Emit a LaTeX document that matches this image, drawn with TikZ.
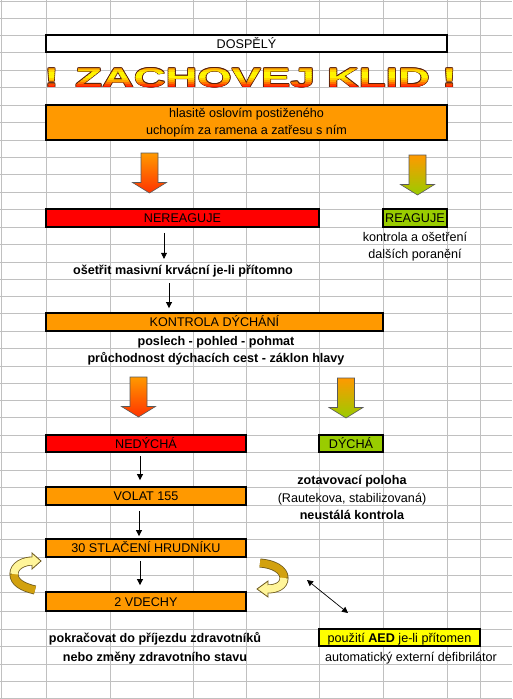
\documentclass[tikz,border=0pt]{standalone}
\usepackage{fontspec}
\setmainfont{Liberation Sans}
\usepackage{tikz}
\usetikzlibrary{arrows.meta}
\usepackage{xcolor}
\usepackage{graphicx}
\definecolor{orng}{HTML}{FF9900}
\definecolor{redbox}{HTML}{FF0000}
\definecolor{grnbox}{HTML}{99CC00}
\definecolor{yelbox}{HTML}{FFFF00}
\definecolor{arred}{HTML}{FF3300}
\definecolor{gridc}{HTML}{C0C0C0}
\definecolor{goldlt}{HTML}{FFF59A}
\definecolor{golddk}{HTML}{D2A10E}
\definecolor{curledge}{HTML}{6E5A1E}
\definecolor{klidedge}{HTML}{5A1E0A}
\newcommand{\boxfont}{\fontsize{12.6}{17}\selectfont}
\newcommand{\klid}{\scalebox{1.63}[1]{! ZACHOVEJ KLID !}}
\newcommand{\bigdown}[3]{%
  \shadedraw[top color=orng, bottom color=#3, draw=black!65, line width=0.6pt]
    (#1-8.5,#2) -- (#1+8.5,#2) -- (#1+8.5,#2+29.5) -- (#1+17,#2+29.5)
    -- (#1,#2+40) -- (#1-17,#2+29.5) -- (#1-8.5,#2+29.5) -- cycle;}
\tikzset{
  box/.style   ={draw, line width=1.8pt, inner sep=0pt, font=\boxfont},
  tline/.style ={text height=11.5pt, text depth=2.5pt},
  lbl/.style   ={inner sep=0pt, font=\boxfont, align=center},
  blbl/.style  ={inner sep=0pt, font=\boxfont\bfseries, align=center},
  flow/.style  ={-{Triangle[length=6pt, width=6pt]}, line width=0.7pt},
  gridln/.style={draw=gridc, line width=1pt},
  titl/.style  ={inner sep=0pt, anchor=base,
                 font=\fontsize{27}{27}\selectfont\bfseries},
  curl/.style  ={line width=9pt, draw=curledge},
}

\begin{document}
\begin{tikzpicture}[x=1pt, y=-1pt]
  \useasboundingbox[fill=white] (0,0) rectangle (512,699);
  % sheet grid
  \foreach \x in {1,46,110,193,246,319,383,447,480}
    \draw[gridln] (\x,0) -- (\x,699);
  \foreach \y in {1,18,35,52,70,87,105,122,140,157,174,192,209,227,244,262,
                  279,296,313,331,348,366,383,400,417,435,452,470,487,505,
                  522,539,557,575,592,611,629,646,664,681,698}
    \draw[gridln] (0,\y) -- (512,\y);

  \node[box, tline, fill=white, minimum width=401pt, minimum height=17pt]
    (dospely) at (246.5,43.5) {DOSPĚLÝ};

  % title, outline first then colour bands
  \foreach \dx/\dy [count=\i] in {-0.9/0,0.9/0,0/-0.9,0/0.9,
                                  -0.6/-0.6,0.6/-0.6,-0.6/0.6,0.6/0.6}
    \node[titl, text=klidedge] (klidedge\i) at (250.5+\dx,87+\dy) {\klid};
  \foreach \y/\p [count=\i] in {64/45,66/41,68/31,70/16,72/4,74/0,76/4,
                                78/18,80/35,82/55,84/75,86/90}
    {\begin{scope}
       \clip (0,\y) rectangle (512,\y+2.05);
       \node[titl, text=red!\p!yellow] (klid\i) at (250.5,87) {\klid};
     \end{scope}}

  \node[box, fill=orng, minimum width=401pt, minimum height=35pt,
        align=center] (hlasite) at (246.5,122.5)
    {hlasitě oslovím postiženého\\uchopím za ramena a zatřesu s ním};

  \bigdown{149.5}{153}{arred}
  \bigdown{417.5}{155}{grnbox}

  \node[box, tline, fill=redbox, minimum width=273pt, minimum height=18pt]
    (nereag) at (182.5,218) {NEREAGUJE};
  \node[box, tline, fill=grnbox, minimum width=64pt, minimum height=18pt]
    (reag) at (415,218) {REAGUJE};
  \node[lbl] (dalsi) at (415,246.5) {kontrola a ošetření\\dalších poranění};

  \node[blbl, tline] (osetrit) at (183,270.2)
    {ošetřit masivní krvácní je-li přítomno};
  \draw[flow, shorten <=5pt, shorten >=4.2pt]
    ([xshift=-18.5pt]nereag.south) -- ([xshift=-19pt]osetrit.north);

  \node[box, tline, fill=orng, minimum width=337pt, minimum height=18pt]
    (kontrola) at (214.5,322) {KONTROLA DÝCHÁNÍ};
  \draw[flow, shorten <=5.8pt, shorten >=4pt]
    ([xshift=-14pt]osetrit.south) -- ([xshift=-45.5pt]kontrola.north);
  \node[blbl] (poslech) at (216,350.5)
    {poslech - pohled - pohmat\\průchodnost dýchacích cest - záklon hlavy};

  \bigdown{138.5}{377}{arred}
  \bigdown{346}{378}{grnbox}

  \node[box, tline, fill=redbox, minimum width=200pt, minimum height=17pt]
    (nedycha) at (146,443.5) {NEDÝCHÁ};
  \node[box, tline, fill=grnbox, minimum width=64pt, minimum height=17pt]
    (dycha) at (351,443.5) {DÝCHÁ};
  \node[lbl, font=\fontsize{12.6}{17.5}\selectfont] (poloha) at (352,497.5)
    {\textbf{zotavovací poloha}\\(Rautekova, stabilizovaná)\\
     \textbf{neustálá kontrola}};

  \node[box, tline, fill=orng, minimum width=200pt, minimum height=18pt]
    (volat) at (146,496) {VOLAT 155};
  \node[box, tline, fill=orng, minimum width=200pt, minimum height=18pt]
    (stlaceni) at (146,548) {30 STLAČENÍ HRUDNÍKU};
  \node[box, tline, fill=orng, minimum width=200pt, minimum height=19pt]
    (vdechy) at (146,601.5) {2 VDECHY};
  \draw[flow, shorten <=3pt, shorten >=6pt]
    ([xshift=-6pt]nedycha.south) -- ([xshift=-6pt]volat.north);
  \draw[flow, shorten <=5pt, shorten >=2pt]
    ([xshift=-7pt]volat.south) -- ([xshift=-7pt]stlaceni.north);
  \draw[flow, shorten <=3pt, shorten >=6pt]
    ([xshift=-6pt]stlaceni.south) -- ([xshift=-6pt]vdechy.north);

  % curved arrows round the cycle
  \draw[curl] (35,590) .. controls (22,587) and (14,582) .. (14,574)
    .. controls (14,566) and (23,561) .. (33,561);
  \filldraw[fill=goldlt, draw=curledge, line width=0.8pt]
    (32,553) -- (41,561) -- (32,569) -- cycle;
  \draw[line width=7.4pt, golddk]
    (35,590) .. controls (22,587) and (14,582) .. (14,574);
  \draw[line width=7.4pt, goldlt]
    (14,574) .. controls (14,566) and (23,561) .. (33,561);

  \draw[curl] (260,563) .. controls (274,564) and (284,570) .. (284,578)
    .. controls (284,586) and (276,589) .. (267,589);
  \filldraw[fill=goldlt, draw=curledge, line width=0.8pt]
    (268,581) -- (257,589) -- (268,597) -- cycle;
  \draw[line width=7.4pt, golddk]
    (260,563) .. controls (274,564) and (284,570) .. (284,578);
  \draw[line width=7.4pt, goldlt]
    (284,578) .. controls (284,586) and (276,589) .. (267,589);

  \coordinate (cpr) at (307,580);
  \coordinate (aedlink) at (348,613);
  \draw[flow, {Triangle[length=6pt, width=6pt]}-{Triangle[length=6pt, width=6pt]}]
    (cpr) -- (aedlink);

  \node[blbl, font=\fontsize{12.6}{18.5}\selectfont\bfseries] (dojezd)
    at (155,648) {pokračovat do příjezdu zdravotníků\\nebo změny zdravotního stavu};
  \node[box, tline, fill=yelbox, minimum width=161pt, minimum height=17pt]
    (aed) at (399.5,637.5) {použití \textbf{AED} je-li přítomen};
  \node[lbl, tline] (defib) at (411,656.7) {automatický externí defibrilátor};
\end{tikzpicture}
\end{document}
